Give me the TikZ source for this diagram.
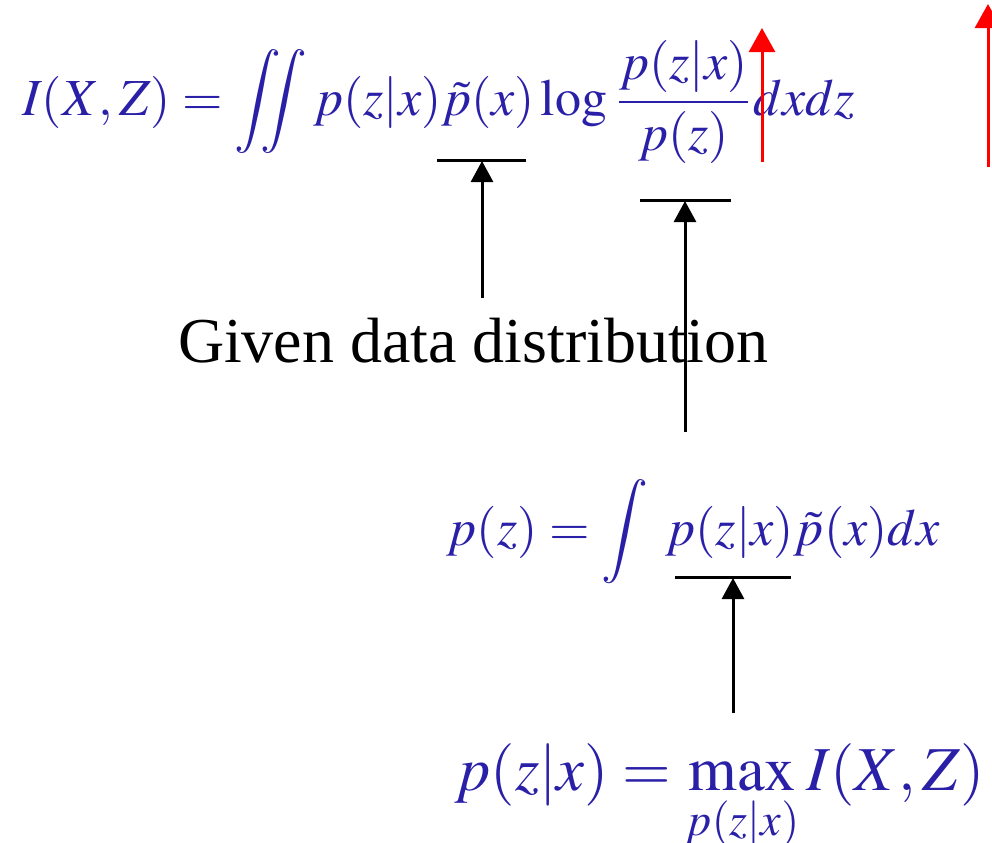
\documentclass[tikz,border=0pt]{standalone}
\usepackage{amsmath}
\usepackage{mathptmx}
\usepackage{fontspec}
\setmainfont{Liberation Serif}
\usetikzlibrary{arrows.meta}
\definecolor{eqblue}{RGB}{42,32,168}
\tikzset{
  eq/.style={inner sep=0pt, outer sep=0pt, text=eqblue, anchor=base west},
  bar/.style={line width=0.06cm, black},
  blackarrow/.style={line width=0.06cm, black, -{Triangle[width=0.44cm,length=0.42cm]}},
  redarrow/.style={line width=0.06cm, red, -{Triangle[width=0.52cm,length=0.48cm]}}
}
\begin{document}
\begin{tikzpicture}[x=0.02cm,y=-0.02cm]
\useasboundingbox (0,0) rectangle (992,843);
% equations
\node[eq] (top) at (22,115) {\resizebox{16.66cm}{!}{$\displaystyle I(X,Z) = \iint p(z|x)\tilde{p}(x)\log\frac{p(z|x)}{p(z)}dxdz$}};
\node[eq, text=black] (given) at (178,362) {\resizebox{11.8cm}{!}{Given data distribution}};
\node[eq] (mid) at (447,545) {\resizebox{9.86cm}{!}{$\displaystyle p(z) = \int\,\, p(z|x)\tilde{p}(x)dx$}};
\node[eq] (bot) at (455,790) {\resizebox{10.6cm}{!}{$\displaystyle p(z|x) = \max_{p(z|x)} I(X,Z)$}};
% bars
\coordinate (b1l) at (437,160); \coordinate (b1r) at (526,160); \coordinate (b1m) at (482,161);
\coordinate (b2l) at (640,200); \coordinate (b2r) at (731,200); \coordinate (b2m) at (685,201);
\coordinate (b3l) at (675,577); \coordinate (b3r) at (791,577); \coordinate (b3m) at (733,578);
\draw[bar] (b1l) -- (b1r);
\draw[bar] (b2l) -- (b2r);
\draw[bar] (b3l) -- (b3r);
% black arrows
\coordinate (a1) at (482,298);
\coordinate (a2) at (685,432);
\coordinate (a3) at (733,713);
\draw[blackarrow] (a1) -- (b1m);
\draw[blackarrow] (a2) -- (b2m);
\draw[blackarrow] (a3) -- (b3m);
% red arrows
\coordinate (r1s) at (762,162); \coordinate (r1e) at (762,28);
\coordinate (r2s) at (988,167); \coordinate (r2e) at (988,4);
\draw[redarrow] (r1s) -- (r1e);
\draw[redarrow] (r2s) -- (r2e);
\end{tikzpicture}
\end{document}
